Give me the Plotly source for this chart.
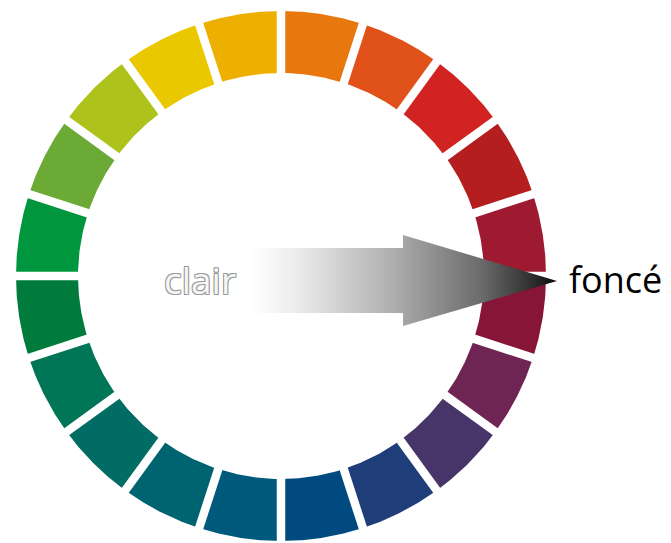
import numpy as np
import plotly.graph_objects as go

# Colour wheel segments, clockwise from 12 o'clock
segment_colors = [
    '#E8770E', '#E1521A', '#D02322', '#B41E1F', '#9E1A31',
    '#861537', '#6F2553', '#473468', '#1F3D78', '#014A7F',
    '#005A7C', '#006470', '#006C64', '#007656', '#007B3C',
    '#00963D', '#6BAA35', '#AEC21C', '#E9C800', '#EDB000',
]
label_light = 'clair'
label_dark = 'foncé'

W, H = 671, 543
PAGE_MARGIN = 8  # default body margin of the html page
cx, cy = 281, 267
r_out, r_in = 265, 203
gap = 8.5

fig = go.Figure()

n = len(segment_colors)
step = 360 / n
for i, color in enumerate(segment_colors):
    a = np.radians(np.linspace(i * step, (i + 1) * step, 40))
    xs = np.concatenate([cx + r_out * np.sin(a), cx + r_in * np.sin(a[::-1])])
    ys = np.concatenate([cy + r_out * np.cos(a), cy + r_in * np.cos(a[::-1])])
    fig.add_trace(go.Scatter(
        x=xs, y=ys, mode='lines', fill='toself',
        fillcolor=color, line=dict(width=0), hoverinfo='skip'
    ))

# white gaps between segments
for i in range(n):
    a = np.radians(i * step)
    fig.add_trace(go.Scatter(
        x=[cx + (r_in - 10) * np.sin(a), cx + (r_out + 10) * np.sin(a)],
        y=[cy + (r_in - 10) * np.cos(a), cy + (r_out + 10) * np.cos(a)],
        mode='lines', line=dict(color='white', width=gap), hoverinfo='skip'
    ))

# gradient arrow light -> dark
arrow_x = [250, 403, 403, 557, 403, 403, 250, 250]
arrow_y = [H - v for v in [248, 248, 235, 281, 326, 313, 313, 248]]
fig.add_trace(go.Scatter(
    x=arrow_x, y=arrow_y, mode='lines', fill='toself',
    line=dict(width=0),
    fillgradient=dict(
        type='horizontal',
        colorscale=[
            [0.0, '#ffffff'], [0.15, '#ececec'], [0.42, '#b8b8b8'],
            [0.5, '#a6a6a6'], [0.75, '#6c6c6c'], [0.92, '#2e2e2e'],
            [1.0, '#0a0a0a'],
        ]
    ),
    hoverinfo='skip'
))

fig.add_annotation(
    x=200, y=H - 279, text=label_light, showarrow=False,
    font=dict(family='Open Sans', size=37, color='#f6f6f6',
              shadow='1px 1px 0 #9a9a9a, -1px -1px 0 #9a9a9a, '
                     '1px -1px 0 #9a9a9a, -1px 1px 0 #9a9a9a'),
)
fig.add_annotation(
    x=615, y=H - 279, text=label_dark, showarrow=False,
    font=dict(family='Open Sans', size=36, color='black'),
)

fig.update_layout(
    width=W, height=H,
    margin=dict(l=0, r=0, t=0, b=0),
    paper_bgcolor='white', plot_bgcolor='white',
    showlegend=False,
    xaxis=dict(range=[PAGE_MARGIN, W + PAGE_MARGIN], visible=False,
               fixedrange=True),
    yaxis=dict(range=[-PAGE_MARGIN, H - PAGE_MARGIN], visible=False,
               fixedrange=True),
)

fig.write_html('out.html')
